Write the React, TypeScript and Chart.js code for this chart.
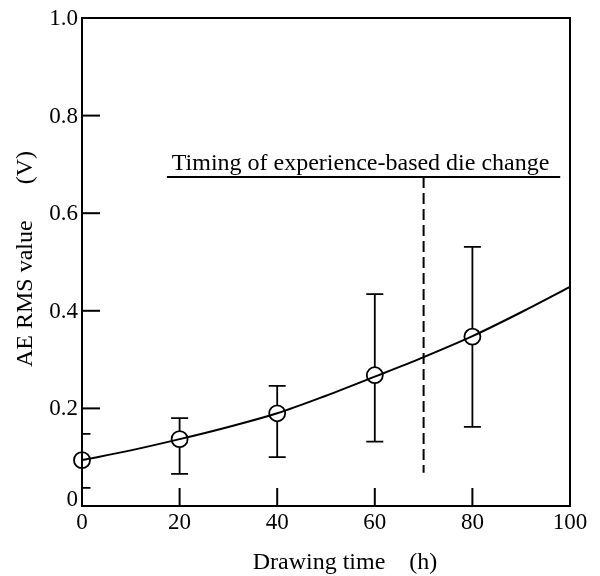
import React, { useEffect, useRef } from "react";
import { Chart, registerables } from "chart.js";

Chart.register(...registerables);

// ---- data ----
const timeH = [0, 20, 40, 60, 80];
const rmsMean = [0.094, 0.137, 0.19, 0.268, 0.347];
const rmsUpper = [0.148, 0.18, 0.246, 0.434, 0.531];
const rmsLower = [0.037, 0.066, 0.1, 0.132, 0.162];

const curveX = [0, 10, 20, 30, 40, 50, 60, 70, 80, 90, 100];
const curveY = [0.094, 0.114, 0.137, 0.162, 0.19, 0.226, 0.265, 0.305, 0.348, 0.397, 0.449];

const xTicks = [0, 20, 40, 60, 80, 100];
const yTicks = [0, 0.2, 0.4, 0.6, 0.8, 1.0];

const dieChangeTime = 70;
const dieChangeRange = [0.068, 0.674];
const labelLineY = 0.674;
const labelLineX = [17.4, 98];
const labelText = "Timing of experience-based die change";

const xTitle = "Drawing time    (h)";
const yTitle = "AE RMS value      (V)";

const FONT = "'Liberation Serif', 'Times New Roman', serif";

const overlay = {
  id: "overlay",
  afterDatasetsDraw(chart: any) {
    const { ctx, chartArea } = chart;
    const xs = chart.scales.x;
    const ys = chart.scales.y;
    ctx.save();
    ctx.strokeStyle = "#000";
    ctx.fillStyle = "#000";
    ctx.lineCap = "butt";

    // frame
    ctx.lineWidth = 2;
    ctx.strokeRect(chartArea.left, chartArea.top, chartArea.right - chartArea.left, chartArea.bottom - chartArea.top);

    // inward ticks
    const tl = 18;
    xTicks.forEach((v) => {
      if (v === xTicks[0] || v === xTicks[xTicks.length - 1]) return;
      const px = xs.getPixelForValue(v);
      ctx.beginPath();
      ctx.moveTo(px, chartArea.bottom);
      ctx.lineTo(px, chartArea.bottom - tl);
      ctx.stroke();
    });
    yTicks.forEach((v) => {
      if (v === yTicks[0] || v === yTicks[yTicks.length - 1]) return;
      const py = ys.getPixelForValue(v);
      ctx.beginPath();
      ctx.moveTo(chartArea.left, py);
      ctx.lineTo(chartArea.left + tl, py);
      ctx.stroke();
    });

    // y tick labels
    ctx.font = `23px ${FONT}`;
    ctx.textAlign = "right";
    yTicks.forEach((v) => {
      const py = ys.getPixelForValue(v);
      const txt = v === 0 ? "0" : v.toFixed(1);
      if (v === 0) {
        ctx.textBaseline = "alphabetic";
        ctx.fillText(txt, chartArea.left - 4, py);
      } else {
        ctx.textBaseline = "middle";
        ctx.fillText(txt, chartArea.left - 4, py + 1);
      }
    });

    // error bars
    ctx.lineWidth = 1.8;
    const cap = 8.5;
    timeH.forEach((t, i) => {
      const px = xs.getPixelForValue(t);
      const pu = ys.getPixelForValue(rmsUpper[i]);
      const pl = ys.getPixelForValue(rmsLower[i]);
      const pm = ys.getPixelForValue(rmsMean[i]);
      const r = 8;
      ctx.beginPath();
      ctx.moveTo(px, pu);
      ctx.lineTo(px, pm - r);
      ctx.moveTo(px, pm + r);
      ctx.lineTo(px, pl);
      const cl = Math.max(chartArea.left, px - cap);
      ctx.moveTo(cl, pu);
      ctx.lineTo(px + cap, pu);
      ctx.moveTo(cl, pl);
      ctx.lineTo(px + cap, pl);
      ctx.stroke();
    });

    // horizontal line for label
    ctx.lineWidth = 2;
    const hy = ys.getPixelForValue(labelLineY);
    const hx0 = xs.getPixelForValue(labelLineX[0]);
    const hx1 = xs.getPixelForValue(labelLineX[1]);
    ctx.beginPath();
    ctx.moveTo(hx0, hy);
    ctx.lineTo(hx1, hy);
    ctx.stroke();

    // dashed vertical
    const dx = xs.getPixelForValue(dieChangeTime);
    ctx.setLineDash([11, 5]);
    ctx.beginPath();
    ctx.moveTo(dx, ys.getPixelForValue(dieChangeRange[1]));
    ctx.lineTo(dx, ys.getPixelForValue(dieChangeRange[0]));
    ctx.stroke();
    ctx.setLineDash([]);

    // label text
    ctx.font = `24px ${FONT}`;
    ctx.textAlign = "center";
    ctx.textBaseline = "alphabetic";
    ctx.fillText(labelText, (hx0 + hx1) / 2 - 3, hy - 7);

    // axis titles
    const cx = (chartArea.left + chartArea.right) / 2;
    ctx.font = `24px ${FONT}`;
    ctx.textAlign = "center";
    ctx.textBaseline = "alphabetic";
    ctx.fillText(xTitle, cx + 19, chartArea.bottom + 63);

    const cy = (chartArea.top + chartArea.bottom) / 2;
    ctx.save();
    ctx.translate(32, cy - 3);
    ctx.rotate(-Math.PI / 2);
    ctx.fillText(yTitle, 0, 0);
    ctx.restore();

    ctx.restore();
  },
};

export default function App() {
  const ref = useRef<HTMLCanvasElement>(null);
  useEffect(() => {
    document.body.style.margin = "0";
    const canvas = ref.current!;
    const chart = new Chart(canvas, {
      type: "scatter",
      data: {
        datasets: [
          {
            type: "line",
            data: curveX.map((x, i) => ({ x, y: curveY[i] })),
            borderColor: "#000",
            borderWidth: 2,
            pointRadius: 0,
            fill: false,
            tension: 0.4,
            cubicInterpolationMode: "monotone",
          } as any,
          {
            type: "scatter",
            data: timeH.map((x, i) => ({ x, y: rmsMean[i] })),
            borderColor: "#000",
            backgroundColor: "rgba(0,0,0,0)",
            borderWidth: 1.8,
            pointRadius: 8,
            pointHoverRadius: 8,
            clip: false,
          } as any,
        ],
      },
      options: {
        animation: false,
        responsive: false,
        events: [],
        layout: { padding: { top: 18, right: 30, left: 0, bottom: 0 } },
        plugins: { legend: { display: false }, tooltip: { enabled: false } },
        scales: {
          x: {
            type: "linear",
            min: 0,
            max: 100,
            afterFit: (s: any) => {
              s.height = 70;
            },
            afterBuildTicks: (s: any) => {
              s.ticks = xTicks.map((v) => ({ value: v }));
            },
            grid: { display: false, drawTicks: false },
            border: { display: false },
            ticks: {
              padding: 3,
              color: "#000",
              font: { family: FONT, size: 23 },
              maxRotation: 0,
              callback: (v: any) => String(v),
            },
            title: { display: false },
          },
          y: {
            type: "linear",
            min: 0,
            max: 1,
            afterFit: (s: any) => {
              s.width = 82;
            },
            afterBuildTicks: (s: any) => {
              s.ticks = yTicks.map((v) => ({ value: v }));
            },
            grid: { display: false, drawTicks: false },
            border: { display: false },
            ticks: { display: false },
            title: { display: false },
          },
        },
      },
      plugins: [overlay],
    });
    return () => chart.destroy();
  }, []);
  return (
    <div style={{ width: 600, height: 576 }}>
      <canvas ref={ref} width={600} height={576} style={{ display: "block" }} />
    </div>
  );
}
